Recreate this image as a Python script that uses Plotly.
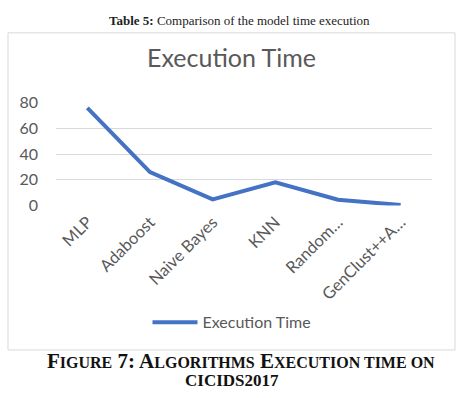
import plotly.graph_objects as go

categories = ["MLP", "Adaboost", "Naive Bayes", "KNN", "Random…", "GenClust++A…"]
exec_time = [76, 26, 4.8, 18, 4.5, 0.4]
y_ticks = [0, 20, 40, 60, 80]

W, H = 457, 398
def px_x(x): return x / W
def px_y(y): return 1 - y / H

GRAY = "#595959"
FONT = "Lato, Carlito, 'Open Sans', sans-serif"

fig = go.Figure()
fig.add_trace(go.Scatter(
    x=categories, y=exec_time, mode="lines", name="Execution Time",
    line=dict(color="#4472C4", width=4),
))

fig.update_layout(
    width=W, height=H,
    margin=dict(l=0, r=0, t=0, b=0),
    paper_bgcolor="white", plot_bgcolor="white",
    font=dict(family=FONT, color=GRAY, size=16),
    xaxis=dict(domain=[px_x(56), px_x(432)], range=[-0.5, 5.5], tickangle=-45,
               showgrid=False, showline=False, ticks="",
               tickfont=dict(size=16.5, color=GRAY),
               ticklabelstandoff=3, fixedrange=True),
    yaxis=dict(domain=[px_y(205.3), px_y(97.3)], range=[0, 80], tickvals=y_ticks,
               showgrid=True, gridcolor="#d9d9d9", gridwidth=1, zeroline=False,
               showline=False, ticks="", tickfont=dict(size=16, color=GRAY),
               ticklabelstandoff=17),
    showlegend=True,
    legend=dict(orientation="h", x=px_x(232), xanchor="center", y=px_y(328), yanchor="middle",
                itemwidth=45,
                font=dict(size=16, color=GRAY), bgcolor="rgba(0,0,0,0)"),
)

# chart frame
fig.add_shape(type="rect", xref="paper", yref="paper",
              x0=px_x(8), x1=px_x(455), y0=px_y(357), y1=px_y(24),
              line=dict(color="#d9d9d9", width=1), layer="below")

# chart title
fig.add_annotation(text="Execution Time", xref="paper", yref="paper",
                   x=px_x(231), y=px_y(49), xanchor="center", yanchor="middle",
                   showarrow=False, font=dict(size=25, color=GRAY, family=FONT))

SERIF = "'Liberation Serif', 'Times New Roman', serif"
# top caption
fig.add_annotation(text="<b>Table 5:</b> Comparison of the model time execution",
                   xref="paper", yref="paper", x=px_x(240), y=px_y(1),
                   xanchor="center", yanchor="top", showarrow=False,
                   font=dict(size=13, color="#222222", family=SERIF))

def sc(s):
    return "<span style='font-size:16px'>" + s + "</span>"

cap1 = "<b>F" + sc("IGURE") + " 7: A" + sc("LGORITHMS") + " E" + sc("XECUTION TIME ON") + "</b>"
fig.add_annotation(text=cap1, xref="paper", yref="paper", x=px_x(241), y=px_y(369),
                   xanchor="center", yanchor="middle", showarrow=False,
                   font=dict(size=21, color="#111111", family=SERIF))
fig.add_annotation(text="<b>CICIDS2017</b>", xref="paper", yref="paper", x=px_x(232), y=px_y(389),
                   xanchor="center", yanchor="middle", showarrow=False,
                   font=dict(size=17, color="#111111", family=SERIF))

fig.write_html("out.html")
